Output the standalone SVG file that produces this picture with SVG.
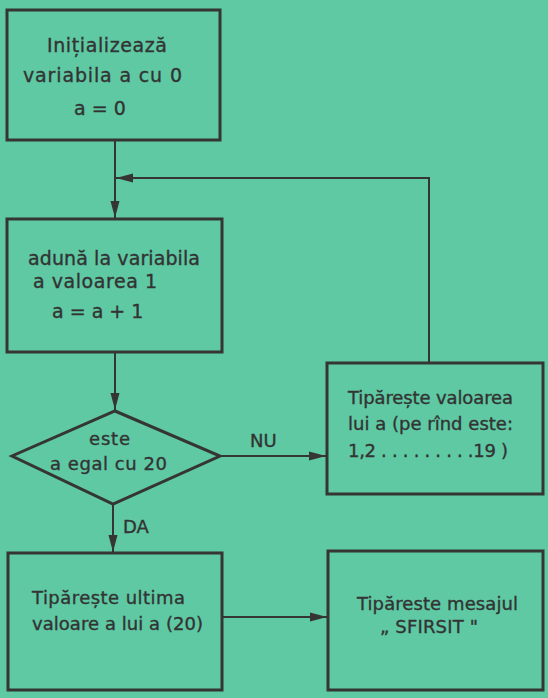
<svg xmlns="http://www.w3.org/2000/svg" width="548" height="698" viewBox="0 0 548 698">
<style>
.bg{fill:#5ec9a3}
.box{fill:none;stroke:#353535;stroke-width:3;stroke-linejoin:miter}
.con{fill:none;stroke:#353535;stroke-width:2}
text{font-family:"DejaVu Sans","Liberation Sans",sans-serif;font-size:18px;fill:#333333;stroke:#333333;stroke-width:0.35}
.big{font-size:19px}
</style>
<defs>
<marker id="ah" markerUnits="userSpaceOnUse" markerWidth="18" markerHeight="12" refX="17" refY="6" orient="auto">
<path d="M0,1.5 L17,6 L0,10.5 Z" fill="#353535"/>
</marker>
</defs>
<rect class="bg" x="0" y="0" width="548" height="698"/>
<g id="connectors">
<path class="con" d="M115,140 V218" marker-end="url(#ah)"/>
<path class="con" d="M429,363 V178 H116" marker-end="url(#ah)"/>
<path class="con" d="M115,352 V410" marker-end="url(#ah)"/>
<path class="con" d="M220,456 H326" marker-end="url(#ah)"/>
<path class="con" d="M113,504 V552" marker-end="url(#ah)"/>
<path class="con" d="M222,617 H327" marker-end="url(#ah)"/>
</g>
<g id="n1">
<rect class="box" x="7" y="10" width="213" height="130"/>
<text class="big" x="47" y="52" textLength="120" lengthAdjust="spacing">Inițializează</text>
<text class="big" x="23" y="82" textLength="159" lengthAdjust="spacing">variabila a cu 0</text>
<text class="big" x="74" y="115">a = 0</text>
</g>
<g id="n2">
<rect class="box" x="7" y="219" width="215" height="133"/>
<text class="big" x="28" y="265" textLength="172" lengthAdjust="spacing">adună la variabila</text>
<text class="big" x="33" y="288" textLength="124" lengthAdjust="spacing">a valoarea 1</text>
<text class="big" x="52" y="318">a = a + 1</text>
</g>
<g id="n3">
<path class="box" d="M115,411 L220,456 L113,504 L12,456 Z"/>
<text x="89" y="445" textLength="41" lengthAdjust="spacing">este</text>
<text x="50" y="470" textLength="117" lengthAdjust="spacing">a egal cu 20</text>
</g>
<g id="n4">
<rect class="box" x="327" y="363" width="216" height="131"/>
<text x="348" y="404" textLength="165" lengthAdjust="spacing">Tipărește valoarea</text>
<text x="348" y="430" textLength="165" lengthAdjust="spacing">lui  a (pe rînd este:</text>
<text x="348" y="457" textLength="160" lengthAdjust="spacing">1,2 . . . . . . . . .19 )</text>
</g>
<g id="n5">
<rect class="box" x="8" y="553" width="214" height="137"/>
<text x="32" y="604" textLength="153" lengthAdjust="spacing">Tipărește ultima</text>
<text x="32" y="630" textLength="171" lengthAdjust="spacing">valoare a lui a (20)</text>
</g>
<g id="n6">
<rect class="box" x="328" y="551" width="215" height="139"/>
<text x="357" y="610" textLength="161" lengthAdjust="spacing">Tipăreste mesajul</text>
<text x="380" y="633" textLength="98" lengthAdjust="spacing">„ SFIRSIT "</text>
</g>
<g id="labels">
<text x="250" y="447">NU</text>
<text x="123" y="533">DA</text>
</g>
</svg>
